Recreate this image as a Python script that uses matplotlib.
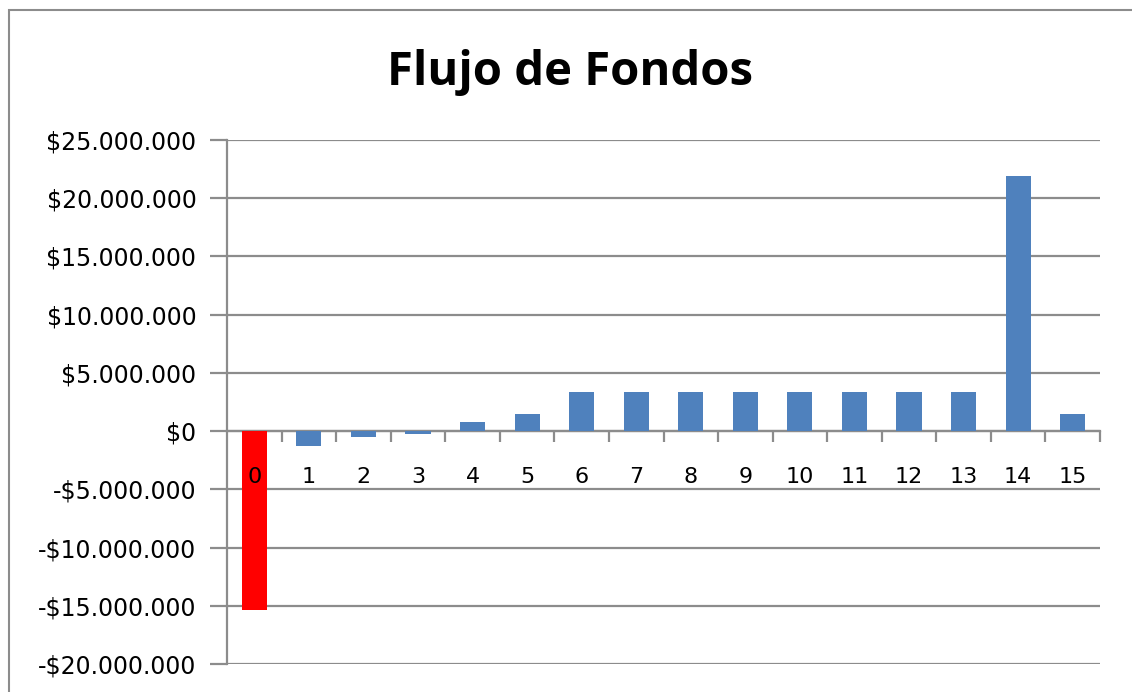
import matplotlib.pyplot as plt
from matplotlib.patches import Rectangle
from matplotlib.ticker import FuncFormatter, FixedLocator

periods = list(range(16))
flows = [-15400000, -1250000, -500000, -250000, 750000, 1500000,
         3350000, 3350000, 3350000, 3350000, 3350000, 3350000,
         3350000, 3350000, 21900000, 1500000]
colors = ["#ff0000"] + ["#4f81bd"] * 15
y_ticks = list(range(-20000000, 25000001, 5000000))


def money(v, pos=None):
    v = int(round(v))
    s = "{:,}".format(abs(v)).replace(",", ".")
    return ("-$" if v < 0 else "$") + s


fig = plt.figure(figsize=(11.32, 6.92), dpi=100)
ax = fig.add_axes([227 / 1132, 1 - 664 / 692, 873 / 1132, 524 / 692])

ax.bar(periods, flows, width=0.46, color=colors, zorder=3)

ax.set_xlim(-0.5, 15.5)
ax.set_ylim(-20000000, 25000000)
ax.set_yticks(y_ticks)
ax.yaxis.set_major_formatter(FuncFormatter(money))
ax.grid(axis="y", color="#8c8c8c", linewidth=1.6)
ax.yaxis.set_zorder(1)
ax.xaxis.set_zorder(4)  # category labels drawn over the red bar

# x axis sits on zero, ticks between categories
for s in ["top", "right"]:
    ax.spines[s].set_visible(False)
ax.spines["bottom"].set_position(("data", 0))
ax.spines["bottom"].set_color("#8c8c8c")
ax.spines["bottom"].set_linewidth(1.6)
ax.spines["left"].set_color("#8c8c8c")
ax.spines["left"].set_linewidth(1.6)

ax.set_xticks(periods)
ax.set_xticklabels([str(p) for p in periods])
ax.xaxis.set_minor_locator(FixedLocator([p + 0.5 for p in periods]))
ax.tick_params(axis="x", which="major", length=0, pad=26, labelsize=16)
ax.tick_params(axis="x", which="minor", length=8, width=1.6, color="#8c8c8c", direction="out")
ax.tick_params(axis="y", length=12, width=1.6, color="#8c8c8c", labelsize=17, pad=10)

fig.text(570 / 1132, 1 - 72 / 692, "Flujo de Fondos", ha="center", va="center",
         fontsize=34, fontweight="bold", family="Open Sans")

fig.patches.append(Rectangle((9 / 1132, -0.05), 1.2, 1 - 10 / 692 + 0.05,
                             transform=fig.transFigure, fill=False,
                             edgecolor="#8c8c8c", linewidth=1.5))

fig.savefig("out.png", dpi=100)
